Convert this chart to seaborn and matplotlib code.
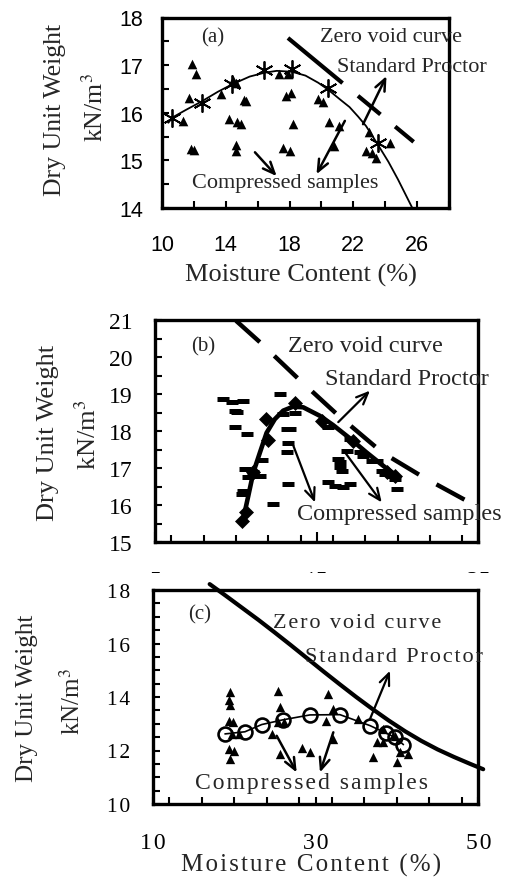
import matplotlib
matplotlib.use('Agg')
import matplotlib.pyplot as plt
import seaborn as sns
import pandas as pd
from matplotlib.ticker import MultipleLocator, FixedLocator, FixedFormatter
from matplotlib.patches import Rectangle

# ---------------- Panel (a) data ----------------
a_proctor_w = [10.65, 12.50, 14.42, 16.42, 18.16, 20.40, 23.54]
a_proctor_g = [15.90, 16.20, 16.60, 16.89, 16.91, 16.53, 15.36]
a_fit_w = [10.4, 10.65, 11.5, 12.5, 13.5, 14.42, 15.5, 16.42, 17.2, 18.16, 19.0, 19.8,
           20.4, 21.2, 21.76, 22.3, 22.8, 23.54, 24.2, 24.8, 25.4, 25.7]
a_fit_g = [15.79, 15.90, 16.06, 16.24, 16.44, 16.60, 16.76, 16.84, 16.88, 16.86, 16.78, 16.63,
           16.49, 16.27, 16.12, 15.92, 15.72, 15.33, 14.97, 14.60, 14.20, 14.00]
a_comp_w = [11.91, 12.12, 11.70, 11.34, 11.80, 11.98, 13.69, 14.45, 14.65, 14.21, 14.70, 14.98,
            15.15, 15.25, 14.67, 14.67, 17.36, 17.88, 17.78, 18.10, 18.21, 17.57, 18.03,
            19.80, 20.10, 20.50, 21.10, 20.80, 23.00, 22.80, 23.20, 23.40, 24.30]
a_comp_g = [17.02, 16.82, 16.32, 15.83, 15.23, 15.22, 16.39, 16.68, 16.63, 15.87, 15.80, 15.77,
            16.27, 16.24, 15.33, 15.19, 16.81, 16.81, 16.36, 16.41, 15.77, 15.26, 15.19,
            16.29, 16.22, 15.80, 15.73, 15.31, 15.60, 15.19, 15.16, 15.05, 15.36]
a_zav_w = [17.9, 25.85]
a_zav_g = [17.57, 15.37]

# ---------------- Panel (b) data ----------------
b_proctor_w = [10.38, 10.61, 11.02, 12.00, 11.85, 13.62, 15.30, 17.26, 19.33, 19.84]
b_proctor_g = [15.58, 15.81, 16.88, 17.76, 18.32, 18.76, 18.28, 17.74, 16.90, 16.79]
b_fit_w = [10.41, 10.76, 11.07, 11.48, 11.89, 12.40, 12.92, 13.54, 14.16, 15.19, 16.01,
           17.05, 18.08, 19.11, 19.94]
b_fit_g = [15.55, 16.25, 16.88, 17.42, 17.95, 18.32, 18.55, 18.66, 18.64, 18.41, 18.16,
           17.80, 17.42, 17.06, 16.79]
b_comp_w = [9.21, 9.73, 10.45, 9.93, 10.04, 12.72, 9.93, 10.70, 13.65, 13.14, 13.34, 13.24,
            13.14, 11.59, 10.55, 11.07, 11.48, 10.45, 10.35, 13.24, 12.31, 12.93, 17.06,
            17.68, 17.88, 18.40, 18.71, 19.02, 19.22, 19.74, 19.84, 19.95, 16.44, 16.44,
            16.54, 15.71, 16.13, 16.64, 17.06, 16.85, 16.33, 15.71, 10.76, 11.38]
b_comp_g = [18.86, 18.78, 18.82, 18.55, 18.51, 19.00, 18.12, 17.92, 18.48, 18.05, 18.05, 17.67,
            17.42, 17.22, 16.97, 16.88, 16.79, 16.39, 16.30, 16.57, 16.03, 18.46, 17.78,
            17.42, 17.33, 17.20, 17.20, 16.93, 16.84, 16.79, 16.70, 16.43, 17.15, 17.02,
            16.93, 16.61, 16.52, 16.48, 16.57, 17.47, 17.24, 18.10, 16.75, 16.78]
b_zav_w = [10.0, 11.48, 13.86, 16.23, 19.05, 21.6, 24.08, 25.0]
b_zav_g = [20.98, 20.40, 19.41, 18.46, 17.42, 16.75, 16.16, 15.95]

# ---------------- Panel (c) data ----------------
c_proctor_w = [18.88, 21.33, 23.39, 26.05, 29.32, 33.00, 36.70, 38.66, 39.77, 40.80]
c_proctor_g = [12.62, 12.70, 12.97, 13.15, 13.33, 13.34, 12.93, 12.65, 12.49, 12.22]
c_comp_w = [19.5, 19.4, 19.5, 19.4, 19.9, 19.8, 20.6, 19.4, 20.0, 19.5,
            25.43, 25.6, 25.4, 26.1, 24.6, 25.6, 28.3, 29.3,
            31.57, 31.33, 32.19, 32.1, 35.26, 37.1, 37.5, 38.3, 38.3, 39.8, 40.0, 40.4, 41.4]
c_comp_g = [14.18, 13.90, 13.70, 13.11, 13.05, 12.62, 12.62, 12.06, 12.00, 11.68,
            14.24, 13.61, 13.05, 13.05, 12.62, 11.87, 12.08, 11.95,
            14.11, 13.11, 13.55, 12.43, 13.18, 11.75, 12.33, 12.33, 12.80, 12.55, 11.56, 11.93, 11.87]
c_zav_w = [17.0, 19.0, 21.0, 23.0, 25.0, 27.0, 29.0, 31.0, 33.0, 35.0, 37.0, 39.0, 41.0,
           43.0, 45.0, 47.0, 49.0, 50.6]
c_zav_g = [18.22, 17.78, 17.33, 16.88, 16.41, 15.93, 15.44, 14.95, 14.47, 14.00, 13.55,
           13.12, 12.72, 12.36, 12.04, 11.76, 11.50, 11.30]

# tick labels
a_xticks = [10, 14, 18, 22, 26]
a_yticks = [14, 15, 16, 17, 18]
b_xticks = [5, 15, 25]
b_yticks = [15, 16, 17, 18, 19, 20, 21]
c_xticks = [10, 30, 50]
c_yticks = [10, 12, 14, 16, 18]

XLABEL = 'Moisture Content (%)'
YLABEL1 = 'Dry Unit Weight'
YLABEL2 = 'kN/m$^3$'
ZAV = 'Zero void curve'
SP = 'Standard Proctor'
CS = 'Compressed samples'

# ---------------- style ----------------
sns.set_theme(style='white')
plt.rcParams['font.family'] = ['Liberation Serif', 'DejaVu Serif']
plt.rcParams['mathtext.fontset'] = 'stix'
plt.rcParams['lines.scale_dashes'] = False
plt.rcParams['axes.linewidth'] = 2.4
plt.rcParams['axes.edgecolor'] = 'black'

W, H = 515, 879
fig = plt.figure(figsize=(W / 100, H / 100), dpi=100)
fig.patch.set_facecolor('white')


def fr(l, t, r, b):
    return [l / W, 1 - b / H, (r - l) / W, (b - t) / H]


def spaced(s):
    return '\u200a'.join(s)


ax_a = fig.add_axes(fr(162, 18.5, 449, 209))
ax_b = fig.add_axes(fr(155.3, 321, 478.3, 543))
ax_c = fig.add_axes(fr(152.7, 591, 478.3, 805))
ax_c.set_zorder(2)

K = 'black'

# ---------- (a) ----------
ax = ax_a
sns.lineplot(x=a_fit_w, y=a_fit_g, ax=ax, color=K, lw=1.3, sort=False, estimator=None)
sns.lineplot(x=a_proctor_w, y=a_proctor_g, ax=ax, color=K, linestyle='', marker=(6, 2, 0),
             markersize=13, markeredgewidth=1.3, markeredgecolor=K, sort=False, estimator=None)
sns.scatterplot(x=a_comp_w, y=a_comp_g, ax=ax, color=K, marker='^', s=48, linewidth=0)
sns.lineplot(x=a_zav_w, y=a_zav_g, ax=ax, color=K, lw=3.0, sort=False, estimator=None,
             linestyle=(0, (51, 14.4, 21, 13.7, 17.3, 40)))
ax.set_xlim(10, 28)
ax.set_ylim(14, 18)
ax.xaxis.set_major_locator(FixedLocator(a_xticks))
ax.xaxis.set_minor_locator(MultipleLocator(2))
ax.yaxis.set_major_locator(FixedLocator(a_yticks))
ax.yaxis.set_minor_locator(MultipleLocator(0.5))
ax.tick_params(axis='both', which='both', direction='in', length=5, width=1.5,
               left=True, bottom=True, top=False, right=False, colors=K)
ax.tick_params(axis='both', which='major', labelsize=15.5, labelfontfamily='Liberation Sans')
ax.tick_params(axis='y', which='major', pad=13.5)
ax.tick_params(axis='x', which='major', pad=18.5)
ax.text(13.2, 17.59, '(a)', ha='center', va='center', fontsize=15)
ax.text(19.9, 17.61, ZAV, ha='left', va='center', fontsize=16)
ax.text(20.97, 16.98, SP, ha='left', va='center', fontsize=16)
ax.text(11.88, 14.54, CS, ha='left', va='center', fontsize=16)
ap = dict(arrowstyle='->,head_length=0.7,head_width=0.3', lw=1.8, color=K, shrinkA=0, shrinkB=0)
ax.annotate('', xy=(24.08, 16.77), xytext=(22.61, 15.76), arrowprops=ap)
ax.annotate('', xy=(17.19, 14.67), xytext=(15.83, 15.17), arrowprops=ap)
ax.annotate('', xy=(19.69, 14.71), xytext=(21.47, 15.83), arrowprops=ap)

# ---------- (b) ----------
ax = ax_b
sns.lineplot(x=b_zav_w, y=b_zav_g, ax=ax, color=K, lw=3.2, sort=False, estimator=None,
             linestyle=(0, (23, 14.4)))
sns.lineplot(x=b_fit_w, y=b_fit_g, ax=ax, color=K, lw=3.3, sort=False, estimator=None)
sns.lineplot(x=b_comp_w, y=b_comp_g, ax=ax, color=K, linestyle='', marker='_',
             markersize=8.5, markeredgewidth=3.6, markeredgecolor=K, sort=False, estimator=None)
sns.lineplot(x=b_proctor_w, y=b_proctor_g, ax=ax, color=K, linestyle='', marker='D',
             markersize=7, markeredgecolor=K, markeredgewidth=0.5, sort=False, estimator=None)
ax.set_xlim(5, 25)
ax.set_ylim(15, 21)
ax.xaxis.set_major_locator(FixedLocator(b_xticks))
ax.xaxis.set_minor_locator(MultipleLocator(2))
ax.yaxis.set_major_locator(FixedLocator(b_yticks))
ax.yaxis.set_minor_locator(MultipleLocator(0.5))
ax.tick_params(axis='both', which='both', direction='in', length=5, width=1.5,
               left=True, bottom=True, top=False, right=False, colors=K)
ax.tick_params(axis='x', which='major', length=7)
ax.tick_params(axis='both', which='major', labelsize=17)
ax.tick_params(axis='y', which='major', pad=16.5)
ax.tick_params(axis='x', which='major', pad=20)
ax.text(7.97, 20.31, '(b)', ha='center', va='center', fontsize=15)
ax.text(13.24, 20.31, ZAV, ha='left', va='center', fontsize=17.5)
ax.text(15.5, 19.41, SP, ha='left', va='center', fontsize=17.5)
ax.text(13.75, 15.76, CS, ha='left', va='center', fontsize=17.5)
ap2 = dict(arrowstyle='->,head_length=0.7,head_width=0.3', lw=1.6, color=K, shrinkA=0, shrinkB=0)
ax.annotate('', xy=(18.29, 19.09), xytext=(16.33, 18.24), arrowprops=ap2)
ax.annotate('', xy=(14.89, 16.07), xytext=(13.55, 17.60), arrowprops=ap2)
ax.annotate('', xy=(19.02, 16.07), xytext=(16.75, 17.42), arrowprops=ap2)

# white band that hides the lower half of panel (b)'s tick labels
fig.add_artist(Rectangle((0, 1 - 592 / H), 1, (592 - 574) / H, transform=fig.transFigure,
                         facecolor='white', edgecolor='none', zorder=1))

# ---------- (c) ----------
ax = ax_c
sns.lineplot(x=c_zav_w, y=c_zav_g, ax=ax, color=K, lw=3.0, sort=False, estimator=None,
             clip_on=False)
sns.scatterplot(x=c_comp_w, y=c_comp_g, ax=ax, color=K, marker='^', s=45, linewidth=0)
sns.lineplot(x=c_proctor_w, y=c_proctor_g, ax=ax, color=K, lw=1.2, marker='o',
             markersize=10, markerfacecolor='none', markeredgecolor=K, markeredgewidth=1.9,
             sort=False, estimator=None)
ax.set_xlim(10, 50)
ax.set_ylim(10, 18)
ax.xaxis.set_major_locator(FixedLocator(c_xticks))
ax.xaxis.set_major_formatter(FixedFormatter([spaced(str(v)) for v in c_xticks]))
ax.xaxis.set_minor_locator(MultipleLocator(4))
ax.yaxis.set_major_locator(FixedLocator(c_yticks))
ax.yaxis.set_major_formatter(FixedFormatter([spaced(str(v)) for v in c_yticks]))
ax.yaxis.set_minor_locator(MultipleLocator(0.5))
ax.tick_params(axis='both', which='both', direction='in', length=5, width=1.5,
               left=True, bottom=True, top=False, right=False, colors=K)
ax.tick_params(axis='x', which='major', labelsize=17, pad=20)
ax.tick_params(axis='y', which='major', labelsize=15.5, pad=16)
ax.text(15.81, 17.1, '(c)', ha='center', va='center', fontsize=15)
ax.text(24.82, 16.79, spaced(ZAV), ha='left', va='center', fontsize=16)
ax.text(28.71, 15.52, spaced(SP), ha='left', va='center', fontsize=16)
ax.text(15.2, 10.81, spaced(CS), ha='left', va='center', fontsize=17)
ax.annotate('', xy=(39.15, 14.98), xytext=(36.7, 13.18), arrowprops=ap2)
ax.annotate('', xy=(27.69, 11.18), xytext=(25.23, 12.55), arrowprops=ap)
ax.annotate('', xy=(30.55, 11.18), xytext=(32.19, 12.68), arrowprops=ap)

for a in (ax_a, ax_b, ax_c):
    a.set_xlabel('')
    a.set_ylabel('')
    for s in a.spines.values():
        s.set_linewidth(2.4)
        s.set_color(K)


def ftext(px, py, s, **kw):
    fig.text(px / W, 1 - py / H, s, ha='center', va='center', **kw)


ftext(55, 110, YLABEL1, rotation=90, fontsize=18.5)
ftext(95, 108, YLABEL2, rotation=90, fontsize=18.5)
ftext(48, 433, YLABEL1, rotation=90, fontsize=19)
ftext(88, 435, YLABEL2, rotation=90, fontsize=19)
ftext(27, 698, YLABEL1, rotation=90, fontsize=18)
ftext(72, 702, YLABEL2, rotation=90, fontsize=18)
ftext(301, 275, XLABEL, fontsize=19)
ftext(311, 865, spaced(XLABEL), fontsize=18)

fig.savefig('out.png', dpi=100, facecolor='white')
